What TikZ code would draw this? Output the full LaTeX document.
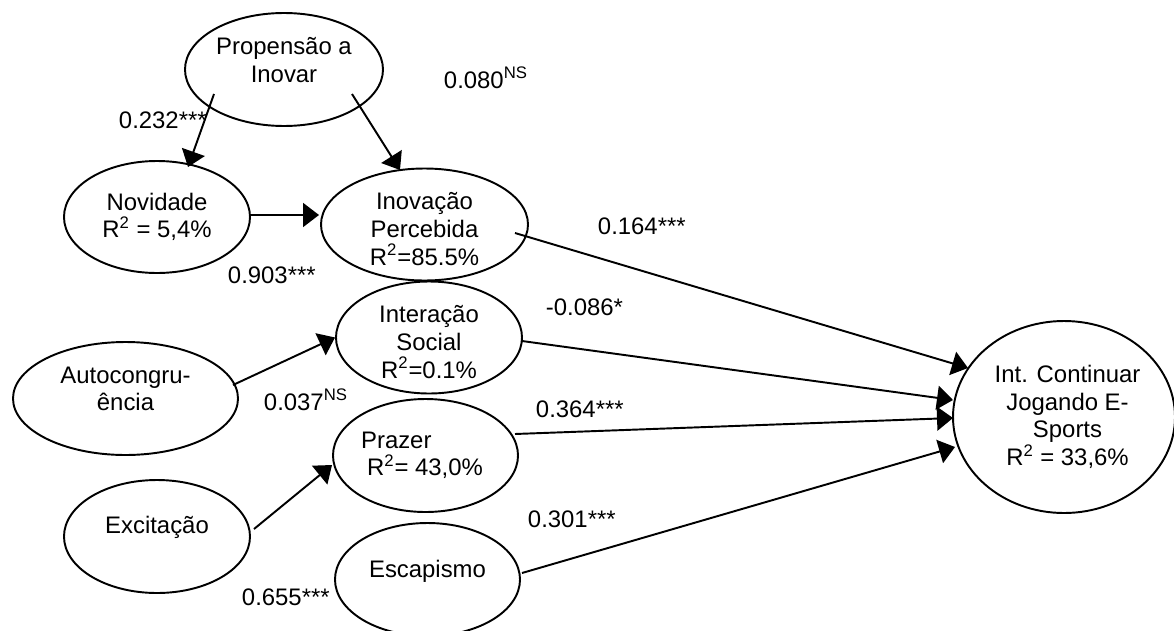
\documentclass[tikz,border=0pt]{standalone}
\usepackage{fontspec}
\setmainfont{Liberation Sans}
\usetikzlibrary{shapes.geometric,arrows.meta,calc}
\tikzset{
    every node/.style={ellipse, inner sep=0mm, draw, line width=1.1pt,
        font=\fontsize{13.6pt}{15.7pt}\selectfont}
}
\tikzset{every label/.style={shape=rectangle, draw=none, align=center}}
\tikzset{coef/.style={shape=rectangle, draw=none, anchor=base west}}
\tikzset{conn/.style={line width=1.1pt, -{Triangle[length=0.32cm, width=0.48cm]}}}

\begin{document}
\begin{tikzpicture}
    \useasboundingbox (0cm, 0cm) rectangle (23.48cm, 12.6cm);

    \node (prop) at (5.68cm, 11.21cm) [minimum width=3.96cm, minimum height=2.26cm,
        label={[yshift=.19cm]center:Propensão a\\Inovar}] {};
    \node (nov) at (3.14cm, 8.26cm) [minimum width=3.72cm, minimum height=2.24cm,
        label={center:Novidade\\R\textsuperscript{2} = 5,4\%}] {};
    \node (inov) at (8.49cm, 8.11cm) [minimum width=4.14cm, minimum height=2.24cm,
        label={[yshift=-.09cm]center:Inovação\\Percebida\\R\textsuperscript{2}=85.5\%}] {};
    \node (inter) at (8.58cm, 5.85cm) [minimum width=3.72cm, minimum height=2.24cm,
        label={[yshift=-.09cm]center:Interação\\Social\\R\textsuperscript{2}=0.1\%}] {};
    \node (auto) at (2.51cm, 4.63cm) [minimum width=4.5cm, minimum height=2.26cm,
        label={[yshift=.19cm]center:Autocongru-\\ência}] {};
    \node (praz) at (8.51cm, 3.49cm) [minimum width=3.7cm, minimum height=2.26cm,
        label={[align=left, xshift=-.07cm]center:Prazer\\\hspace*{.12cm}R\textsuperscript{2}= 43,0\%}] {};
    \node (exc) at (3.14cm, 1.87cm) [minimum width=3.72cm, minimum height=2.26cm,
        label={[yshift=.18cm]center:Excitação}] {};
    \node (esc) at (8.55cm, 1.01cm) [minimum width=3.7cm, minimum height=2.26cm,
        label={[yshift=.17cm]center:Escapismo}] {};
    \node (intc) at (21.28cm, 4.26cm) [minimum width=4.44cm, minimum height=3.84cm,
        label={[xshift=.07cm]center:Int. Continuar\\Jogando E-\\Sports\\R\textsuperscript{2} = 33,6\%}] {};

    \draw[conn] ($(prop)+(-1.4,-0.49)$) -- ($(nov)+(0.62,1.0)$);
    \draw[conn] ($(prop)+(1.36,-0.49)$) -- ($(inov)+(-0.49,1.09)$);
    \draw[conn] ($(nov)+(1.86,0.04)$) -- ($(inov)+(-2.11,0.19)$);
    \draw[conn] ($(auto)+(2.15,0.27)$) -- (inter.west);
    \draw[conn] ($(exc)+(1.94,0.15)$) -- ($(praz)+(-1.87,-0.19)$);

    \draw[conn] ($(inov)+(1.81,-0.17)$) -- ($(intc)+(-1.92,0.98)$);
    \draw[conn] ($(inter)+(1.86,-0.07)$) -- ($(intc)+(-2.22,0.34)$);
    \draw[conn] ($(praz)+(1.79,0.43)$) -- ($(intc)+(-2.22,-0.02)$);
    \draw[conn] ($(esc)+(1.89,0.13)$) -- ($(intc)+(-2.18,-0.6)$);

    \node (c232) at (2.36cm, 10.03cm) [coef] {0.232***};
    \node (c080) at (8.86cm, 10.84cm) [coef] {0.080\textsuperscript{NS}};
    \node (c903) at (4.54cm, 6.94cm) [coef] {0.903***};
    \node (c164) at (11.94cm, 7.92cm) [coef] {0.164***};
    \node (c086) at (10.9cm, 6.3cm) [coef] {-0.086*};
    \node (c037) at (5.26cm, 4.4cm) [coef] {0.037\textsuperscript{NS}};
    \node (c364) at (10.7cm, 4.26cm) [coef] {0.364***};
    \node (c301) at (10.54cm, 2.06cm) [coef] {0.301***};
    \node (c655) at (4.82cm, 0.5cm) [coef] {0.655***};
\end{tikzpicture}
\end{document}
